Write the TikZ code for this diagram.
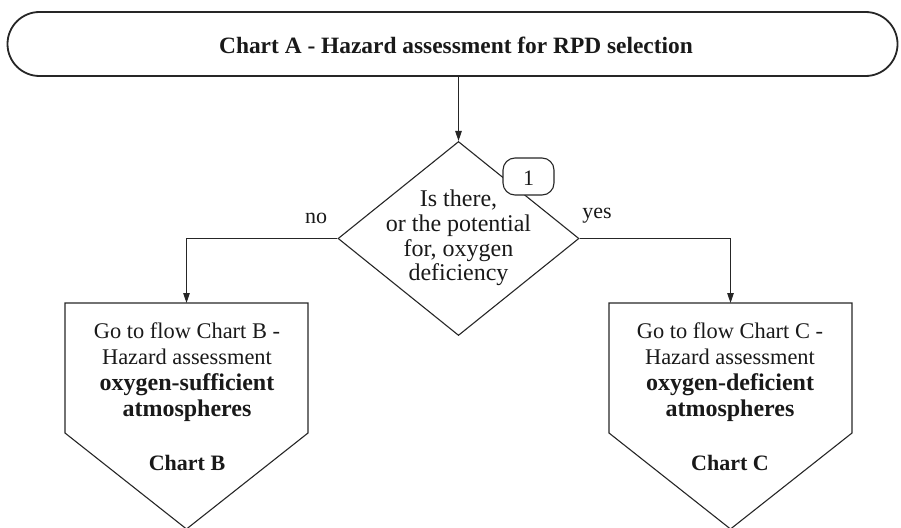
\documentclass[tikz,border=0pt]{standalone}
\usepackage{fontspec}
\setmainfont{Liberation Serif}
\usetikzlibrary{shapes.geometric,arrows.meta}
\tikzset{
  box/.style={draw=black!85, line width=1.1pt},
  conn/.style={draw=black!85, line width=1.1pt, -{Triangle[length=10pt,width=6.5pt]}},
  txt/.style={align=center, inner sep=0pt, font=\fontsize{22}{25.5}\selectfont, text=black!90},
  btxt/.style={align=center, inner sep=0pt, font=\fontsize{22}{26}\selectfont\bfseries, text=black!90},
}
\newcommand{\boldline}[1]{{\fontsize{24}{26}\selectfont\bfseries #1}}
\begin{document}
\begin{tikzpicture}[x=1pt,y=-1pt]
\useasboundingbox (0,0) rectangle (901,527);
% title
\node[draw=black!85, line width=1.8pt, rounded corners=32pt, minimum width=890pt, minimum height=64pt, inner sep=0pt] (title) at (452.5,44) {};
\node[btxt, font=\fontsize{23.4}{26}\selectfont\bfseries] (titletext) at (456,45) {Chart A - Hazard assessment for RPD selection};
% diamond
\node[box, diamond, minimum width=241pt, minimum height=194pt, inner sep=0pt] (dec) at (458.5,238.5) {};
\node[txt, font=\fontsize{24}{24.7}\selectfont] (dectext) at (458.5,238) {Is there,\\or the potential\\for, oxygen\\deficiency};
% tag
\node[box, fill=white, rounded corners=12pt, minimum width=51pt, minimum height=37pt, inner sep=0pt] (tag) at (528.5,176.5) {};
\node[txt] (tagtext) at (528.5,178) {1};
% pentagons
\coordinate (ltop) at (186.5,303);
\coordinate (rtop) at (730.5,303);
\draw[box] (65,303) -- (308,303) -- (308,433) -- (186.5,529) -- (65,433) -- cycle;
\draw[box] (609,303) -- (852,303) -- (852,433) -- (730.5,529) -- (609,433) -- cycle;
\node[txt, font=\fontsize{22.4}{26}\selectfont] (ltext) at (187,372) {Go to flow Chart B -\\Hazard assessment\\\boldline{oxygen-sufficient}\\\boldline{atmospheres}};
\node[btxt] (lchart) at (187,463) {Chart B};
\node[txt, font=\fontsize{22.4}{26}\selectfont] (rtext) at (730,372) {Go to flow Chart C -\\Hazard assessment\\\boldline{oxygen-deficient}\\\boldline{atmospheres}};
\node[btxt] (rchart) at (730,463) {Chart C};
% connectors
\draw[conn] (title.south -| dec.north) -- (dec.north);
\draw[conn] (dec.west) -| (ltop);
\draw[conn] (dec.east) -| (rtop);
\node[txt] (no) at (316,218) {no};
\node[txt] (yes) at (597,216) {yes};
\end{tikzpicture}
\end{document}
